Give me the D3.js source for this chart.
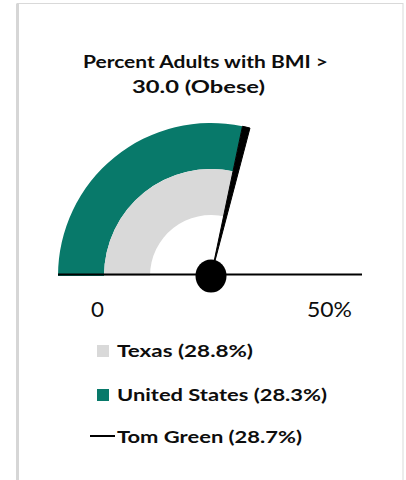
<!DOCTYPE html>
<html>
<head>
<meta charset="utf-8">
<script src="https://cdn.jsdelivr.net/npm/d3@7"></script>
<style>
  html, body { margin: 0; padding: 0; background: #fff; }
  svg { display: block; }
  text { font-family: Lato, "Open Sans", sans-serif; fill: #0d0d0d; }
</style>
</head>
<body>
<svg id="chart" width="406" height="480"></svg>
<script>
// Gauge data: percent of adults with BMI > 30.0
const titleLines = ["Percent Adults with BMI >", "30.0 (Obese)"];
const scaleDomain = [0, 50];
const tickLabels = ["0", "50%"];
const seriesNames = ["Texas", "United States", "Tom Green"];
const seriesValues = [28.8, 28.3, 28.7];
const seriesColors = ["#d9d9d9", "#08796a", "#000000"];

const svg = d3.select("#chart");

// card frame
svg.append("rect")
  .attr("x", 17.5).attr("y", 3.5)
  .attr("width", 385.5).attr("height", 490)
  .attr("fill", "#fff")
  .attr("stroke", "#d9d9d9").attr("stroke-width", 1);
svg.append("line")
  .attr("x1", 17.5).attr("x2", 17.5).attr("y1", 3.5).attr("y2", 480)
  .attr("stroke", "#d6d6d6").attr("stroke-width", 3);

// text helper: the labels are set in a wide, Calibri-like face, so each
// line is stretched to its set width
function label(sel, x, y, str, size, weight, anchor, width) {
  return sel.append("text")
    .attr("x", x).attr("y", y)
    .attr("font-size", size).attr("font-weight", weight)
    .attr("text-anchor", anchor)
    .attr("textLength", width).attr("lengthAdjust", "spacingAndGlyphs")
    .text(str);
}

// title
label(svg, 205.5, 68, titleLines[0], 16.5, 700, "middle", 245);
label(svg, 198.5, 93, titleLines[1], 16.5, 700, "middle", 133);

// gauge geometry
const cx = 211, cy = 276;
const rOuter = 153, rMid = 107, rInner = 61;

const angle = d3.scaleLinear().domain(scaleDomain).range([-Math.PI / 2, Math.PI / 2]);
const g = svg.append("g").attr("transform", `translate(${cx},${cy})`);

const [texas, us, tomGreen] = seriesValues;

// United States band (outer)
g.append("path")
  .attr("d", d3.arc()({ innerRadius: rMid, outerRadius: rOuter,
    startAngle: angle(scaleDomain[0]), endAngle: angle(us) }))
  .attr("fill", seriesColors[1]);

// Texas band (inner)
g.append("path")
  .attr("d", d3.arc()({ innerRadius: rInner, outerRadius: rMid,
    startAngle: angle(scaleDomain[0]), endAngle: angle(texas) }))
  .attr("fill", seriesColors[0]);

// baseline across the dial
g.append("line")
  .attr("x1", -rOuter).attr("x2", rOuter - 2)
  .attr("y1", -1.5).attr("y2", -1.5)
  .attr("stroke", "#000").attr("stroke-width", 2);

// Tom Green needle: a thin wedge centred on the value
const needleHalf = 0.4;
g.append("path")
  .attr("d", d3.arc()({ innerRadius: 0, outerRadius: rOuter,
    startAngle: angle(tomGreen - needleHalf), endAngle: angle(tomGreen + needleHalf) }))
  .attr("fill", seriesColors[2])
  .attr("stroke", seriesColors[2]).attr("stroke-width", 1);

// hub
g.append("ellipse")
  .attr("cx", 0).attr("cy", 0).attr("rx", 15.5).attr("ry", 16.5)
  .attr("fill", "#000");

// end labels
label(svg, 97.5, 317, tickLabels[0], 21, 400, "middle", 13);
label(svg, 329.5, 317, tickLabels[1], 21, 400, "middle", 45);

// legend
const legendY = [357, 401, 443];
const legendWidths = [136, 210, 185];
const legend = svg.append("g");
seriesNames.forEach((name, i) => {
  const y = legendY[i];
  if (i < 2) {
    legend.append("rect")
      .attr("x", 97).attr("y", y - 12).attr("width", 12).attr("height", 12)
      .attr("fill", seriesColors[i]);
  } else {
    legend.append("line")
      .attr("x1", 90).attr("x2", 115).attr("y1", y - 7).attr("y2", y - 7)
      .attr("stroke", seriesColors[i]).attr("stroke-width", 2);
  }
  label(legend, 117, y, `${name} (${d3.format(".1f")(seriesValues[i])}%)`,
    17, 700, "start", legendWidths[i]);
});
</script>
</body>
</html>
